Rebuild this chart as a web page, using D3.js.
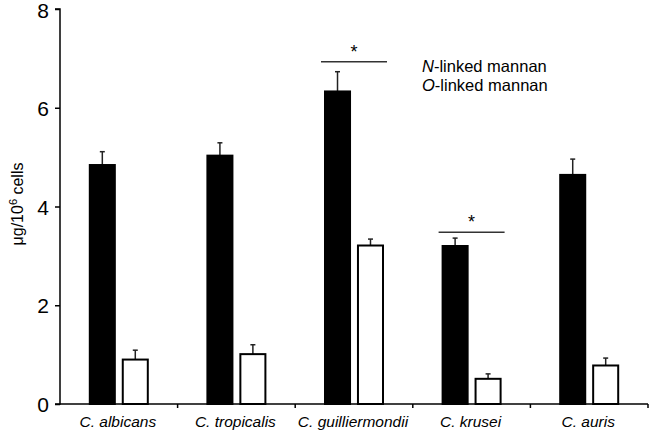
<!DOCTYPE html>
<html><head><meta charset="utf-8">
<script src="https://cdn.jsdelivr.net/npm/d3@7"></script>
<style>body{margin:0;background:#fff}svg{display:block}text{font-family:"Liberation Sans",Arial,sans-serif}</style>
</head><body><svg id="c" width="650" height="432"></svg>
<script>
const categories = ["C. albicans","C. tropicalis","C. guilliermondii","C. krusei","C. auris"];
const seriesNames = ["N-linked mannan","O-linked mannan"];
const nLinked = [4.84, 5.03, 6.33, 3.2, 4.64];
const nLinkedErr = [0.27, 0.26, 0.40, 0.16, 0.32];
const oLinked = [0.9, 1.01, 3.21, 0.51, 0.78];
const oLinkedErr = [0.19, 0.19, 0.13, 0.10, 0.15];
const yTicks = [0, 2, 4, 6, 8];
const significant = [2, 3];
const sigLevel = [6.93, 3.48];

const svg = d3.select("#c");
const x0 = 60, x1 = 648, yTop = 9, yBot = 404;
const x = d3.scaleBand().domain(categories).range([x0, x1]);
const y = d3.scaleLinear().domain([0, 8]).range([yBot, yTop]);
const inner = d3.scaleBand().domain([0,1]).range([-30, 30]).paddingInner(0.18);

const data = categories.map((c,i)=>({c, vals:[{v:nLinked[i], e:nLinkedErr[i], s:0},{v:oLinked[i], e:oLinkedErr[i], s:1}]}));

const g = svg.selectAll("g.grp").data(data).join("g").attr("class","grp")
  .attr("transform", d=>`translate(${x(d.c)+x.bandwidth()/2},0)`);

g.selectAll("line.err").data(d=>d.vals).join("line").attr("class","err")
  .attr("x1", d=>inner(d.s)+inner.bandwidth()/2).attr("x2", d=>inner(d.s)+inner.bandwidth()/2)
  .attr("y1", d=>y(d.v)).attr("y2", d=>y(d.v+d.e)).attr("stroke","#222").attr("stroke-width",1.5);
g.selectAll("line.cap").data(d=>d.vals).join("line").attr("class","cap")
  .attr("x1", d=>inner(d.s)+inner.bandwidth()/2-2.5).attr("x2", d=>inner(d.s)+inner.bandwidth()/2+2.5)
  .attr("y1", d=>y(d.v+d.e)).attr("y2", d=>y(d.v+d.e)).attr("stroke","#222").attr("stroke-width",1.5);

g.selectAll("rect").data(d=>d.vals).join("rect")
  .attr("x", d=>inner(d.s)+1).attr("width", inner.bandwidth()-2)
  .attr("y", d=>y(d.v)).attr("height", d=>yBot-y(d.v))
  .attr("fill", d=>d.s===0?"#000":"#fff").attr("stroke","#000").attr("stroke-width",2);

const yAxis = d3.axisLeft(y).tickValues(yTicks).tickSize(5).tickFormat(d3.format("d"));
const ya = svg.append("g").attr("transform",`translate(${x0},0)`).call(yAxis);
ya.select(".domain").attr("stroke","#000").attr("stroke-width",1.5).attr("d",`M-5,${yTop}H0V${yBot}H-5`);
ya.selectAll(".tick line").attr("stroke","#000").attr("stroke-width",1.5);
ya.selectAll(".tick text").attr("font-size",21).attr("fill","#000").attr("x",-11)
  .attr("dy", d=>d===8?"0.42em":"0.36em")
  .style("font-family",'"Liberation Sans",Arial,sans-serif');

const bounds = categories.map(c=>x(c)+x.bandwidth());
const xa = svg.append("g");
xa.append("line").attr("x1",x0).attr("x2",x1).attr("y1",yBot).attr("y2",yBot).attr("stroke","#000").attr("stroke-width",1.5);
xa.selectAll("line.t").data(bounds).join("line").attr("class","t")
  .attr("x1",d=>d).attr("x2",d=>d).attr("y1",yBot).attr("y2",yBot+4).attr("stroke","#000").attr("stroke-width",1.5);
xa.selectAll("text").data(categories).join("text")
  .attr("x", d=>x(d)+x.bandwidth()/2-1).attr("y", 427).attr("text-anchor","middle")
  .attr("font-size",15.5).attr("font-style","italic").text(d=>d);

svg.append("text").attr("transform","translate(23,204) rotate(-90)").attr("text-anchor","middle")
  .attr("font-size",16).call(t=>{
    t.append("tspan").text("μg/10");
    t.append("tspan").attr("dy",-6).attr("font-size",11).text("6");
    t.append("tspan").attr("dy",6).text(" cells");
  });

significant.forEach((i,k)=>{
  const cx = x(categories[i])+x.bandwidth()/2;
  const ly = y(sigLevel[k]);
  svg.append("line").attr("x1",cx-33).attr("x2",cx+33).attr("y1",ly).attr("y2",ly).attr("stroke","#333").attr("stroke-width",1.5);
  svg.append("text").attr("x",cx).attr("y",ly-4).attr("text-anchor","middle").attr("font-size",18).text("*");
});

const leg = svg.append("g");
seriesNames.forEach((s,i)=>{
  const t = leg.append("text").attr("x",422).attr("y",72+i*19).attr("font-size",16.5);
  t.append("tspan").attr("font-style","italic").text(s.split("-")[0]);
  t.append("tspan").text("-"+s.split("-").slice(1).join("-"));
});
</script></body></html>
